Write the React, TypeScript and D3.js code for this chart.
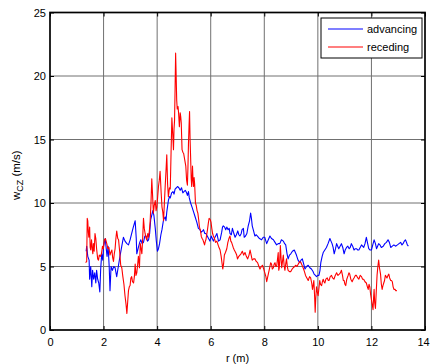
import React, { useRef, useEffect } from "react";
import * as d3 from "d3";

// axis ticks
const xTicks = [0, 2, 4, 6, 8, 10, 12, 14];
const yTicks = [0, 5, 10, 15, 20, 25];
const seriesNames = ["advancing", "receding"];

// [r (m), w_CZ (m/s)]
const advancing: [number, number][] = [
  [1.35, 6.2], [1.37, 6.6], [1.41, 5.8], [1.46, 5.5], [1.48, 4.0], [1.52, 5.0], [1.56, 3.4], [1.59, 4.7],
  [1.63, 4.0], [1.67, 4.5], [1.71, 3.7], [1.74, 4.7], [1.78, 4.0], [1.82, 3.7], [1.86, 3.0], [1.89, 4.7],
  [1.93, 6.0], [1.97, 5.5], [2.0, 6.6], [2.06, 7.2], [2.09, 6.6], [2.13, 5.8], [2.17, 6.6], [2.21, 5.0],
  [2.24, 3.1], [2.28, 5.0], [2.33, 4.7], [2.38, 5.0], [2.43, 4.9], [2.49, 4.2], [2.55, 5.0], [2.62, 5.9],
  [2.68, 6.6], [2.74, 7.3], [2.8, 7.0], [2.87, 6.8], [2.93, 6.7], [2.99, 7.1], [3.05, 7.6], [3.11, 8.1],
  [3.18, 8.6], [3.22, 7.2], [3.24, 6.0], [3.3, 6.5], [3.35, 6.9], [3.39, 7.1], [3.44, 6.8], [3.49, 6.9],
  [3.54, 7.4], [3.59, 7.4], [3.64, 7.0], [3.68, 7.1], [3.72, 7.6], [3.76, 8.7], [3.84, 9.4], [3.88, 9.0],
  [3.93, 8.0], [3.97, 7.0], [4.01, 6.2], [4.05, 6.4], [4.09, 6.8], [4.14, 7.5], [4.18, 7.9], [4.24, 8.7],
  [4.3, 8.9], [4.33, 8.6], [4.36, 9.3], [4.42, 10.2], [4.46, 10.5], [4.49, 10.4], [4.54, 10.8], [4.59, 10.9],
  [4.63, 10.7], [4.67, 11.1], [4.72, 11.2], [4.76, 11.3], [4.81, 11.2], [4.86, 11.0], [4.91, 11.2], [4.96, 10.8],
  [5.0, 10.9], [5.05, 11.0], [5.1, 10.8], [5.13, 10.6], [5.17, 10.9], [5.2, 10.4], [5.25, 10.0], [5.3, 9.7],
  [5.36, 9.3], [5.42, 8.9], [5.48, 8.5], [5.54, 8.0], [5.6, 7.9], [5.64, 7.7], [5.7, 7.8], [5.73, 7.9],
  [5.78, 7.6], [5.82, 7.6], [5.87, 7.4], [5.92, 7.2], [5.97, 7.0], [6.02, 7.4], [6.06, 7.2], [6.1, 7.0],
  [6.17, 7.35], [6.23, 7.6], [6.29, 7.0], [6.35, 7.1], [6.41, 7.7], [6.44, 8.1], [6.47, 8.2], [6.52, 8.1],
  [6.56, 7.9], [6.6, 8.1], [6.65, 7.9], [6.69, 8.0], [6.72, 7.6], [6.77, 7.5], [6.81, 8.0], [6.85, 7.7],
  [6.91, 7.3], [6.96, 7.5], [7.01, 7.8], [7.05, 7.5], [7.09, 7.4], [7.14, 7.6], [7.17, 7.9], [7.22, 8.0],
  [7.25, 7.3], [7.3, 7.4], [7.35, 7.6], [7.4, 8.2], [7.45, 8.6], [7.49, 9.2], [7.52, 8.8], [7.55, 8.2],
  [7.6, 7.8], [7.65, 7.4], [7.7, 7.5], [7.76, 7.35], [7.82, 7.2], [7.9, 7.1], [7.96, 7.3], [8.02, 7.3],
  [8.06, 7.0], [8.09, 6.8], [8.15, 7.1], [8.21, 7.4], [8.27, 7.2], [8.34, 7.1], [8.4, 6.9], [8.46, 6.7],
  [8.52, 6.8], [8.58, 6.8], [8.64, 7.1], [8.71, 7.0], [8.76, 6.8], [8.8, 6.7], [8.85, 6.0], [8.89, 5.6],
  [8.94, 5.9], [8.99, 6.0], [9.05, 6.2], [9.12, 6.3], [9.16, 6.1], [9.2, 5.9], [9.26, 5.5], [9.33, 5.3],
  [9.37, 5.5], [9.42, 5.6], [9.47, 5.2], [9.52, 4.8], [9.58, 5.0], [9.64, 5.1], [9.7, 4.9], [9.76, 4.8],
  [9.82, 4.6], [9.86, 4.4], [9.91, 4.3], [9.95, 4.2], [10.0, 4.3], [10.04, 4.3], [10.08, 4.7], [10.11, 5.3],
  [10.16, 5.8], [10.2, 6.1], [10.26, 6.3], [10.32, 6.5], [10.38, 6.8], [10.45, 7.2], [10.49, 7.0], [10.53, 6.8],
  [10.57, 6.5], [10.61, 6.0], [10.66, 6.4], [10.7, 6.8], [10.74, 6.6], [10.78, 6.4], [10.83, 6.6], [10.88, 6.8],
  [10.93, 6.5], [10.98, 6.0], [11.02, 6.3], [11.07, 6.5], [11.12, 6.6], [11.17, 6.4], [11.21, 6.5], [11.25, 6.8],
  [11.3, 6.6], [11.35, 6.3], [11.4, 6.4], [11.44, 6.4], [11.49, 6.3], [11.53, 6.3], [11.58, 6.5], [11.63, 6.7],
  [11.67, 6.6], [11.71, 6.5], [11.76, 6.8], [11.81, 7.3], [11.85, 6.9], [11.9, 6.4], [11.95, 6.3], [12.0, 6.3],
  [12.05, 6.7], [12.1, 7.1], [12.15, 6.8], [12.19, 6.4], [12.23, 6.6], [12.27, 6.8], [12.32, 6.7], [12.37, 6.5],
  [12.44, 6.6], [12.5, 6.8], [12.56, 6.9], [12.62, 7.1], [12.67, 6.9], [12.72, 6.5], [12.78, 6.6], [12.84, 6.7],
  [12.9, 6.6], [12.97, 6.7], [13.03, 6.8], [13.09, 6.9], [13.14, 6.7], [13.18, 6.8], [13.23, 7.0], [13.27, 7.1],
  [13.31, 6.9], [13.34, 6.7], [13.38, 6.6],
];

const receding: [number, number][] = [
  [1.33, 5.3], [1.37, 5.4], [1.39, 8.8], [1.41, 8.6], [1.43, 7.7], [1.45, 7.3], [1.48, 8.1], [1.5, 6.5],
  [1.52, 6.3], [1.55, 7.1], [1.58, 6.3], [1.6, 6.0], [1.62, 6.8], [1.65, 6.2], [1.68, 7.6], [1.71, 7.2],
  [1.74, 6.4], [1.78, 5.6], [1.81, 5.5], [1.84, 5.9], [1.88, 5.8], [1.92, 6.0], [1.96, 6.6], [1.99, 6.4],
  [2.03, 7.1], [2.07, 7.2], [2.12, 6.8], [2.16, 6.4], [2.2, 6.5], [2.24, 5.9], [2.27, 6.1], [2.31, 6.3],
  [2.34, 5.7], [2.37, 5.4], [2.4, 6.0], [2.43, 6.4], [2.46, 7.2], [2.49, 7.8], [2.53, 7.2], [2.56, 7.1],
  [2.6, 6.2], [2.64, 5.1], [2.68, 4.9], [2.72, 4.2], [2.76, 3.6], [2.8, 2.7], [2.84, 2.0], [2.87, 1.3],
  [2.9, 2.2], [2.93, 3.1], [2.96, 3.4], [2.99, 3.5], [3.02, 4.1], [3.05, 4.2], [3.08, 3.8], [3.12, 3.7],
  [3.15, 4.2], [3.18, 5.2], [3.21, 4.3], [3.24, 4.5], [3.27, 5.1], [3.3, 5.8], [3.34, 4.9], [3.37, 6.8],
  [3.4, 6.4], [3.43, 6.0], [3.46, 7.2], [3.49, 8.8], [3.52, 8.0], [3.55, 7.6], [3.58, 7.3], [3.61, 7.1],
  [3.65, 7.6], [3.68, 7.3], [3.71, 7.8], [3.74, 8.6], [3.77, 10.0], [3.8, 11.9], [3.83, 10.6], [3.86, 9.2],
  [3.89, 9.8], [3.93, 10.2], [3.96, 9.4], [3.99, 9.7], [4.02, 10.5], [4.05, 11.3], [4.08, 11.8], [4.11, 12.5],
  [4.15, 10.8], [4.18, 9.7], [4.21, 9.3], [4.24, 8.6], [4.27, 10.0], [4.3, 11.3], [4.33, 12.5], [4.36, 13.8],
  [4.39, 11.5], [4.42, 10.5], [4.46, 11.2], [4.49, 11.1], [4.52, 14.0], [4.55, 16.7], [4.58, 15.5], [4.61, 14.2],
  [4.63, 15.8], [4.65, 16.5], [4.67, 19.0], [4.69, 21.8], [4.71, 20.0], [4.73, 18.1], [4.75, 17.4], [4.78, 17.6],
  [4.8, 17.1], [4.83, 16.0], [4.86, 17.1], [4.88, 16.8], [4.9, 16.3], [4.93, 14.2], [4.96, 14.0], [4.99, 13.9],
  [5.03, 13.4], [5.07, 12.9], [5.1, 11.8], [5.13, 11.4], [5.15, 12.8], [5.17, 14.7], [5.19, 16.0], [5.21, 17.2],
  [5.23, 15.0], [5.25, 13.6], [5.27, 12.0], [5.29, 11.3], [5.31, 12.2], [5.32, 12.9], [5.34, 11.8], [5.36, 11.3],
  [5.38, 12.0], [5.4, 11.5], [5.43, 10.0], [5.46, 9.8], [5.49, 9.4], [5.52, 9.2], [5.55, 8.7], [5.58, 8.1],
  [5.62, 7.8], [5.65, 7.35], [5.68, 7.2], [5.71, 7.1], [5.74, 6.9], [5.77, 6.7], [5.8, 7.0], [5.82, 7.1],
  [5.85, 7.5], [5.88, 7.9], [5.91, 8.4], [5.94, 8.8], [5.98, 8.7], [6.01, 8.5], [6.04, 8.0], [6.07, 7.6],
  [6.1, 7.4], [6.14, 7.2], [6.18, 6.9], [6.23, 7.0], [6.29, 6.6], [6.35, 6.3], [6.39, 5.8], [6.42, 5.3],
  [6.45, 4.8], [6.48, 5.2], [6.51, 5.9], [6.55, 6.1], [6.6, 6.4], [6.64, 6.9], [6.68, 7.2], [6.72, 7.4],
  [6.75, 7.0], [6.78, 6.9], [6.84, 6.5], [6.88, 6.3], [6.93, 6.1], [6.97, 5.9], [7.0, 5.6], [7.05, 5.8],
  [7.09, 5.9], [7.13, 6.0], [7.18, 6.2], [7.23, 5.9], [7.28, 6.1], [7.33, 5.8], [7.38, 5.6], [7.43, 5.9],
  [7.47, 6.3], [7.51, 5.9], [7.55, 5.5], [7.6, 5.6], [7.65, 5.6], [7.7, 5.4], [7.75, 5.3], [7.8, 5.0],
  [7.84, 4.8], [7.89, 5.0], [7.93, 5.1], [7.98, 4.8], [8.02, 4.5], [8.06, 4.2], [8.09, 3.8], [8.12, 4.1],
  [8.15, 4.4], [8.18, 4.7], [8.21, 5.0], [8.24, 5.3], [8.27, 5.2], [8.3, 4.8], [8.34, 4.9], [8.37, 5.2],
  [8.4, 5.3], [8.43, 5.0], [8.46, 5.0], [8.49, 5.5], [8.52, 6.1], [8.54, 4.7], [8.56, 4.9], [8.58, 5.6],
  [8.6, 6.65], [8.63, 5.5], [8.65, 4.9], [8.68, 5.4], [8.71, 5.9], [8.74, 5.1], [8.77, 4.7], [8.8, 5.2],
  [8.83, 5.6], [8.86, 5.0], [8.89, 4.7], [8.94, 4.6], [8.99, 4.6], [9.04, 4.8], [9.08, 4.9], [9.13, 5.0],
  [9.17, 5.1], [9.22, 5.0], [9.27, 5.2], [9.32, 5.4], [9.37, 5.3], [9.41, 5.1], [9.45, 4.9], [9.5, 4.6],
  [9.54, 4.3], [9.59, 4.1], [9.64, 3.9], [9.69, 4.2], [9.73, 4.1], [9.77, 3.7], [9.8, 3.2], [9.83, 3.6],
  [9.85, 3.9], [9.88, 2.6], [9.9, 1.4], [9.92, 2.4], [9.95, 3.4], [9.98, 3.0], [10.01, 2.7], [10.04, 3.3],
  [10.07, 3.9], [10.1, 3.6], [10.14, 3.5], [10.17, 3.8], [10.2, 4.0], [10.23, 3.8], [10.26, 3.7], [10.3, 4.0],
  [10.35, 4.1], [10.39, 3.9], [10.42, 3.9], [10.46, 4.2], [10.51, 4.3], [10.55, 4.1], [10.6, 4.0], [10.65, 4.3],
  [10.7, 4.5], [10.75, 4.3], [10.8, 4.4], [10.84, 4.5], [10.88, 4.7], [10.92, 4.3], [10.95, 3.9], [10.98, 3.9],
  [11.01, 3.6], [11.04, 3.5], [11.08, 4.0], [11.13, 4.3], [11.16, 4.5], [11.19, 4.4], [11.23, 4.0], [11.28, 3.8],
  [11.32, 4.0], [11.35, 4.1], [11.4, 4.3], [11.44, 4.3], [11.49, 4.1], [11.53, 4.0], [11.58, 4.3], [11.63, 4.2],
  [11.67, 4.0], [11.71, 4.0], [11.76, 3.8], [11.81, 3.7], [11.85, 3.4], [11.88, 3.2], [11.91, 3.6], [11.94, 3.4],
  [11.97, 2.8], [12.0, 2.4], [12.03, 2.0], [12.06, 1.6], [12.08, 2.5], [12.1, 3.2], [12.12, 2.2], [12.15, 1.7],
  [12.18, 3.0], [12.21, 4.3], [12.24, 5.0], [12.27, 5.5], [12.3, 4.9], [12.34, 4.4], [12.37, 3.6], [12.4, 3.2],
  [12.43, 3.5], [12.46, 3.7], [12.49, 3.9], [12.52, 4.3], [12.55, 4.2], [12.58, 4.1], [12.62, 4.3], [12.65, 4.4],
  [12.68, 4.1], [12.72, 3.9], [12.75, 3.9], [12.78, 3.8], [12.81, 3.4], [12.84, 3.2], [12.88, 3.2], [12.91, 3.1],
  [12.95, 3.1],
];

const FONT = "'Liberation Sans', Arial, sans-serif";

function App() {
  const ref = useRef<SVGSVGElement>(null);

  useEffect(() => {
    const [width, height] = [430, 364];
    const svg = d3.select(ref.current);
    svg.selectAll("*").remove();
    svg.attr("width", width).attr("height", height);

    const x = d3.scaleLinear().domain([0, 14]).range([50, 425]);
    const y = d3.scaleLinear().domain([0, 25]).range([330, 12.5]);
    const color = d3.scaleOrdinal<string, string>().domain(seriesNames).range(["#0000ff", "#ff0000"]);

    svg.append("rect").attr("width", width).attr("height", height).attr("fill", "#fff");

    // grid
    const grid = svg.append("g").attr("stroke", "#707070").attr("stroke-width", 1);
    grid
      .selectAll(".gx")
      .data(xTicks.slice(1, -1))
      .join("line")
      .attr("x1", (d) => x(d))
      .attr("x2", (d) => x(d))
      .attr("y1", y(25))
      .attr("y2", y(0));
    grid
      .selectAll(".gy")
      .data(yTicks.slice(1, -1))
      .join("line")
      .attr("y1", (d) => y(d))
      .attr("y2", (d) => y(d))
      .attr("x1", x(0))
      .attr("x2", x(14));

    // series
    const line = d3
      .line<[number, number]>()
      .x((d) => x(d[0]))
      .y((d) => y(d[1]));
    [advancing, receding].forEach((data, i) => {
      svg
        .append("path")
        .datum(data)
        .attr("fill", "none")
        .attr("stroke", color(seriesNames[i]))
        .attr("stroke-width", 1.1)
        .attr("stroke-linejoin", "round")
        .attr("d", line);
    });

    // axes (MATLAB style inward ticks)
    const styleAxis = (g) => {
      g.select(".domain").remove();
      g.selectAll(".tick line").attr("stroke", "#000");
      g.selectAll(".tick text").attr("fill", "#000").attr("font-size", 11).attr("font-family", FONT);
    };
    const gx = svg
      .append("g")
      .attr("transform", `translate(0,${y(0)})`)
      .call(d3.axisBottom(x).tickValues(xTicks).tickSizeInner(-4).tickSizeOuter(0).tickPadding(8))
      .call(styleAxis);
    // last label sits against the window edge
    gx.selectAll(".tick text").filter((d) => d === 14).attr("dx", -2);
    svg
      .append("g")
      .attr("transform", `translate(0,${y(25)})`)
      .call(d3.axisTop(x).tickValues(xTicks).tickSizeInner(-4).tickSizeOuter(0).tickFormat(() => ""))
      .call(styleAxis);
    svg
      .append("g")
      .attr("transform", `translate(${x(0)},0)`)
      .call(d3.axisLeft(y).tickValues(yTicks).tickSizeInner(-4).tickSizeOuter(0).tickPadding(4))
      .call(styleAxis);
    svg
      .append("g")
      .attr("transform", `translate(${x(14)},0)`)
      .call(d3.axisRight(y).tickValues(yTicks).tickSizeInner(-4).tickSizeOuter(0).tickFormat(() => ""))
      .call(styleAxis);

    svg
      .append("rect")
      .attr("x", x(0))
      .attr("y", y(25))
      .attr("width", x(14) - x(0))
      .attr("height", y(0) - y(25))
      .attr("fill", "none")
      .attr("stroke", "#000")
      .attr("stroke-width", 1.7);

    // axis labels
    svg
      .append("text")
      .attr("x", (x(0) + x(14)) / 2)
      .attr("y", 362)
      .attr("text-anchor", "middle")
      .attr("font-family", FONT)
      .attr("font-size", 11)
      .text("r (m)");

    const yl = svg
      .append("text")
      .attr("transform", `translate(19.5,${(y(0) + y(25)) / 2 + 4}) rotate(-90)`)
      .attr("text-anchor", "middle")
      .attr("font-family", FONT)
      .attr("font-size", 11.5);
    yl.append("tspan").text("w");
    yl.append("tspan").attr("font-size", 9).attr("dy", 3).text("CZ");
    yl.append("tspan").attr("dy", -3).text(" (m/s)");

    // legend
    const lg = svg.append("g");
    lg.append("rect")
      .attr("x", 321)
      .attr("y", 18)
      .attr("width", 101)
      .attr("height", 40)
      .attr("fill", "#fff")
      .attr("stroke", "#000")
      .attr("stroke-width", 1);
    seriesNames.forEach((name, i) => {
      const ly = 29 + i * 18;
      lg.append("line")
        .attr("x1", 328)
        .attr("x2", 363)
        .attr("y1", ly)
        .attr("y2", ly)
        .attr("stroke", color(name))
        .attr("stroke-width", 1.1);
      lg.append("text")
        .attr("x", 367)
        .attr("y", ly + 4)
        .attr("font-family", FONT)
        .attr("font-size", 11)
        .text(name);
    });
  }, []);

  return <svg ref={ref} style={{ position: "absolute", left: 0, top: 0, display: "block" }} />;
}

export default App;
